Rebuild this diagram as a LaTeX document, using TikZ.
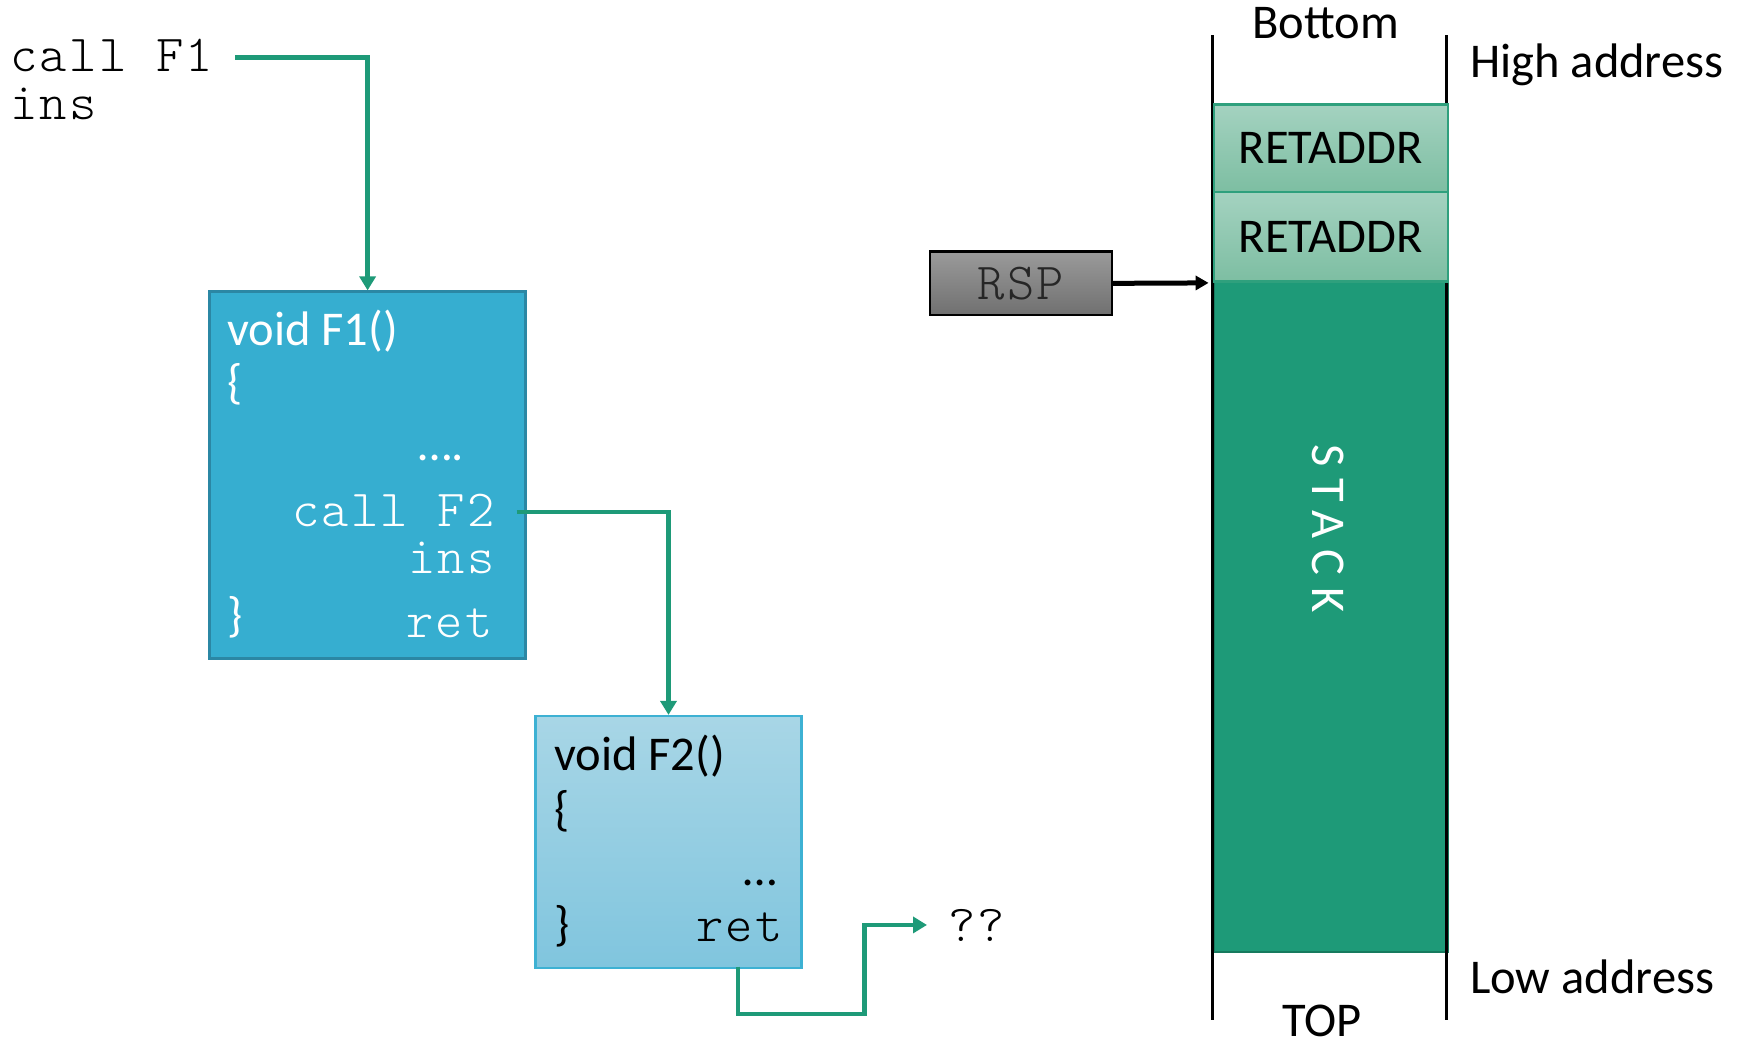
\documentclass[tikz,border=0pt]{standalone}
\usepackage{fontspec}
\setmainfont{Carlito}
\newfontfamily\codefont{lmmonolt10-regular}[Extension=.otf, LetterSpace=4.5]
\usetikzlibrary{arrows.meta}

\definecolor{flowgreen}{HTML}{1E9A78}
\definecolor{fonefill}{HTML}{36AED0}
\definecolor{foneedge}{HTML}{2B87A4}
\definecolor{ftwotop}{HTML}{A8D6E6}
\definecolor{ftwobot}{HTML}{80C5DE}
\definecolor{ftwoedge}{HTML}{3DB1D3}
\definecolor{slottop}{HTML}{A4D2C0}
\definecolor{slotbot}{HTML}{7DBEA2}
\definecolor{slotedge}{HTML}{2FA07D}
\definecolor{stackfill}{HTML}{1E9A78}
\definecolor{stackedge}{HTML}{177A5E}
\definecolor{rsptop}{HTML}{9A9A9A}
\definecolor{rspbot}{HTML}{707070}

\begin{document}
\begin{tikzpicture}[x=1pt, y=-1pt,
  sansfont/.style={font=\fontsize{48.5}{58}\selectfont},
  monofont/.style={font=\fontsize{52}{60}\codefont},
  sans/.style={sansfont, inner sep=0pt},
  mono/.style={monofont, inner sep=0pt},
  flow/.style={draw=flowgreen, line width=4.5pt, -{Triangle[length=14pt,width=16pt]}},
  framebox/.style={rectangle, anchor=north west, inner sep=0pt, line width=2.5pt},
  rail/.style={line width=2.5pt, draw=black},
]
\useasboundingbox (0,0) rectangle (1738,1043);

% caller
\node[mono, anchor=base west] (callf1) at (10,72) {call F1};
\node[mono, anchor=base west] (insf1) at (10,120) {ins};

% function F1
\node[framebox, draw=foneedge, fill=fonefill,
      minimum width=315.9pt, minimum height=366.9pt] (f1) at (208.4,290.4) {};
\node[sans, text=white, anchor=base west] (f1sig) at (227,345) {void F1()};
\node[sans, text=white, anchor=base west] (f1open) at (227,398) {\{};
\node[sans, text=white, anchor=base east] (f1dots) at (464,460) {….};
\node[mono, text=white, anchor=base east] (f1call) at (495,526) {call F2};
\node[mono, text=white, anchor=base east] (f1ins) at (495,573) {ins};
\node[sans, text=white, anchor=base west] (f1close) at (227,631) {\}};
\node[mono, text=white, anchor=base east] (f1ret) at (493,637) {ret};

% function F2
\node[framebox, draw=ftwoedge, top color=ftwotop, bottom color=ftwobot,
      minimum width=266.1pt, minimum height=251.6pt] (f2) at (534.2,714.9) {};
\node[sans, anchor=base west] (f2sig) at (554,770) {void F2()};
\node[sans, anchor=base west] (f2open) at (554,825) {\{};
\node[sans, anchor=base east] (f2dots) at (777,885) {…};
\node[sans, anchor=base west] (f2close) at (554,940) {\}};
\node[mono, anchor=base east] (f2ret) at (783,941) {ret};

\node[mono, anchor=base west] (qq) at (948,941) {??};

% control flow
\coordinate (callf1out) at (235,57.6);
\coordinate (f1out) at (516.5,512);
\coordinate (f2out) at (738.2,966.5);
\draw[flow] (callf1out) -| (f1.north);
\draw[flow] (f1out) -| (f2.north);
\draw[flow, shorten >=21pt] (f2out) |- (864.6,1014.2) |- (qq.west);

% stack
\node[framebox, draw=stackedge, fill=stackfill, line width=2pt,
      minimum width=233.9pt, minimum height=670.6pt] (body) at (1212.6,280.4) {};
\draw[rail] (1212.6,35.5) -- (1212.6,1019.7);
\draw[rail] (1446.5,35.5) -- (1446.5,1019.7);
\node[framebox, sansfont, draw=slotedge, top color=slottop, bottom color=slotbot,
      minimum width=233.9pt, minimum height=87.5pt] (slotone) at (1212.6,103.1) {RETADDR};
\node[framebox, sansfont, draw=slotedge, top color=slottop, bottom color=slotbot,
      minimum width=233.9pt, minimum height=89.8pt] (slottwo) at (1212.6,190.6) {RETADDR};
\node[sansfont, text=white, rotate=-90] (stk) at (1327.9,528.7)
     {\addfontfeature{LetterSpace=25}STACK};

% stack pointer
\node[framebox, monofont, draw=black, top color=rsptop, bottom color=rspbot,
      text=black!85, minimum width=181.8pt, minimum height=63.2pt] (rsp) at (928.8,250.5) {RSP};
\draw[line width=5pt, -{Triangle[length=13pt,width=14pt]}]
     (rsp.east) -- ([xshift=-4pt]slottwo.south west);

% labels
\node[sans, anchor=base] (bottomlbl) at (1325.6,38.8) {Bottom};
\node[sans, anchor=base west] (highlbl) at (1470,77.6) {High address};
\node[sans, anchor=base west] (lowlbl) at (1470,993) {Low address};
\node[sans, anchor=base] (toplbl) at (1322.3,1036) {TOP};
\end{tikzpicture}
\end{document}
